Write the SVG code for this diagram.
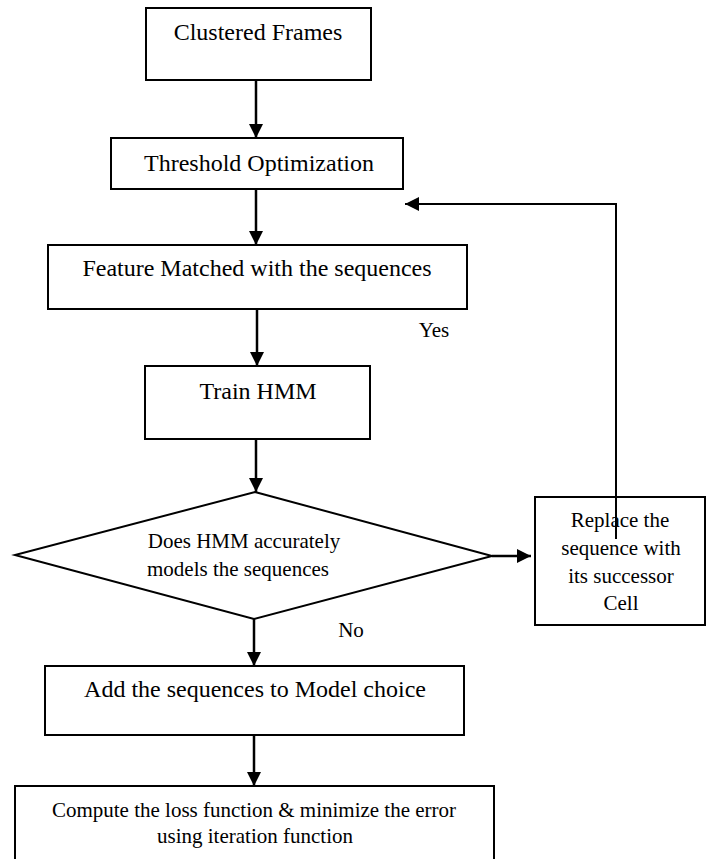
<svg xmlns="http://www.w3.org/2000/svg" width="712" height="859" viewBox="0 0 712 859">
<style>
.box{fill:#fff;stroke:#000;stroke-width:2}
text{font-family:'Liberation Serif','Times New Roman','DejaVu Serif',serif;fill:#000;text-anchor:middle}
.b{font-size:24px}
.s{font-size:21px}
.c{fill:none;stroke:#000;stroke-width:2.5}
.f{fill:none;stroke:#000;stroke-width:2}
</style>
<defs>
<marker id="ah" viewBox="0 0 10 10" refX="10" refY="5" markerWidth="6" markerHeight="5.6" markerUnits="strokeWidth" orient="auto">
<path d="M0,0 L10,5 L0,10 Z" fill="#000"/>
</marker>
<marker id="ah2" viewBox="0 0 10 10" refX="10" refY="5" markerWidth="8" markerHeight="7" markerUnits="strokeWidth" orient="auto">
<path d="M0,0 L10,5 L0,10 Z" fill="#000"/>
</marker>
</defs>
<rect width="712" height="859" fill="#fff"/>
<g id="clustered">
<rect class="box" x="146" y="8" width="225" height="72"/>
<text class="b" x="258" y="40" font-family="Liberation Serif, serif">Clustered Frames</text>
</g>
<g id="threshold">
<rect class="box" x="111" y="138" width="292" height="51"/>
<text class="b" x="259" y="171" font-family="Liberation Serif, serif">Threshold Optimization</text>
</g>
<g id="feature">
<rect class="box" x="48" y="245" width="419" height="64"/>
<text class="b" x="257" y="276" font-family="Liberation Serif, serif">Feature Matched with the sequences</text>
</g>
<g id="train">
<rect class="box" x="145" y="366" width="225" height="73"/>
<text class="b" x="258" y="399" font-family="Liberation Serif, serif">Train HMM</text>
</g>
<g id="decision">
<polygon class="box" points="255,492 492,556 254,619 15,555"/>
<text class="s" x="244" y="548" font-family="Liberation Serif, serif">Does HMM accurately</text>
<text class="s" x="238" y="576" font-family="Liberation Serif, serif">models the sequences</text>
</g>
<g id="replace">
<rect class="box" x="535" y="497" width="170" height="128"/>
<text class="s" x="620" y="527" font-family="Liberation Serif, serif">Replace the</text>
<text class="s" x="621" y="555" font-family="Liberation Serif, serif">sequence with</text>
<text class="s" x="621" y="583" font-family="Liberation Serif, serif">its successor</text>
<text class="s" x="621" y="610" font-family="Liberation Serif, serif">Cell</text>
</g>
<g id="add">
<rect class="box" x="45" y="666" width="419" height="69"/>
<text class="b" x="255" y="697" font-family="Liberation Serif, serif">Add the sequences to Model choice</text>
</g>
<g id="compute">
<rect class="box" x="15" y="786" width="479" height="84"/>
<text class="s" x="254" y="817" font-family="Liberation Serif, serif">Compute the loss function &amp; minimize the error</text>
<text class="s" x="255" y="843" font-family="Liberation Serif, serif">using iteration function</text>
</g>
<g id="labels">
<text class="s" x="434" y="337" font-family="Liberation Serif, serif">Yes</text>
<text class="s" x="351" y="637" font-family="Liberation Serif, serif">No</text>
</g>
<g id="connectors">
<line class="c" x1="256" y1="80" x2="256" y2="138" marker-end="url(#ah)"/>
<line class="c" x1="256" y1="189" x2="256" y2="245" marker-end="url(#ah)"/>
<line class="c" x1="257" y1="309" x2="257" y2="366" marker-end="url(#ah)"/>
<line class="c" x1="256" y1="439" x2="256" y2="492" marker-end="url(#ah)"/>
<line class="c" x1="254" y1="619" x2="254" y2="666" marker-end="url(#ah)"/>
<line class="c" x1="254" y1="735" x2="254" y2="786" marker-end="url(#ah)"/>
<line class="c" x1="492" y1="556" x2="531" y2="556" marker-end="url(#ah)"/>
<polyline class="f" points="616,539 616,204 405,204" marker-end="url(#ah2)"/>
</g>
</svg>
